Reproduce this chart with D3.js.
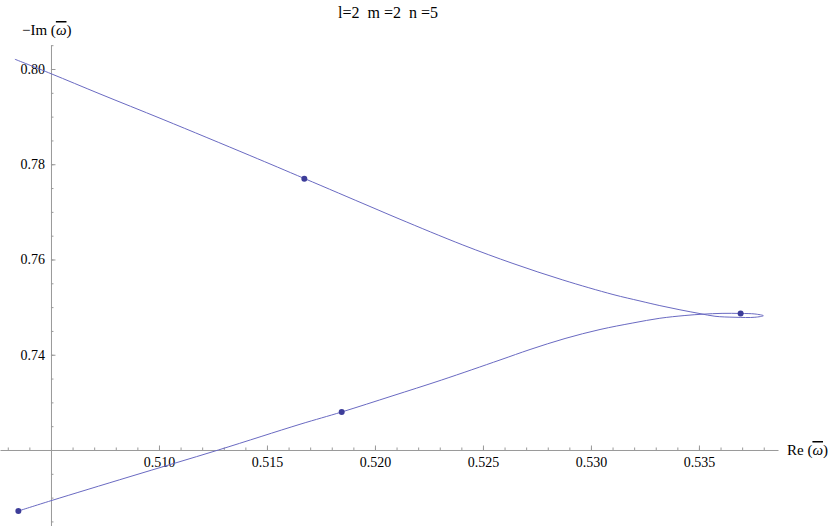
<!DOCTYPE html>
<html>
<head>
<meta charset="utf-8">
<script src="https://cdn.jsdelivr.net/npm/d3@7"></script>
<style>
  body { margin: 0; background: #fff; }
  svg { display: block; }
</style>
</head>
<body>
<svg id="plot"></svg>
<script>
// trajectory, from the lower-left dot round the loop and back to the upper-left end
var reValues = [0.50349, 0.50500, 0.50866, 0.51275, 0.51653, 0.51846, 0.52079, 0.52309,
  0.52579, 0.52718, 0.52880, 0.53042, 0.53194, 0.53319, 0.53435, 0.53519, 0.53607,
  0.53693, 0.53759, 0.53798, 0.53759, 0.53667, 0.53574, 0.53505, 0.53412, 0.53319,
  0.53227, 0.53102, 0.52870, 0.52639, 0.52407, 0.52116, 0.51977, 0.51673, 0.51421,
  0.51019, 0.50727, 0.50500, 0.50333];
var imValues = [0.70719, 0.70935, 0.71441, 0.72000, 0.72540, 0.72798, 0.73134, 0.73470,
  0.73890, 0.74110, 0.74341, 0.74530, 0.74667, 0.74766, 0.74824, 0.74852, 0.74869,
  0.74867, 0.74856, 0.74820, 0.74787, 0.74787, 0.74808, 0.74864, 0.74944, 0.75032,
  0.75129, 0.75265, 0.75570, 0.75916, 0.76305, 0.76845, 0.77113, 0.77701, 0.78184,
  0.78940, 0.79476, 0.79902, 0.80205];

// marked points
var dotRe = [0.50349, 0.51846, 0.53693, 0.51673];
var dotIm = [0.70719, 0.72798, 0.74867, 0.77695];

var xTickLabels = [0.510, 0.515, 0.520, 0.525, 0.530, 0.535];
var yTickLabels = [0.74, 0.76, 0.78, 0.80];

var title = "l=2  m =2  n =5";

var width = 830, height = 526;
var serif = "'Liberation Serif', 'Times New Roman', Tinos, 'Noto Serif', 'DejaVu Serif', serif";

var svg = d3.select("#plot")
  .attr("width", width)
  .attr("height", height);

// plot range as drawn (axes run to the image edges)
var x = d3.scaleLinear()
  .domain([0.50264, 0.53866])
  .range([0, 778]);

var y = d3.scaleLinear()
  .domain([0.70404, 0.80504])
  .range([526, 45]);

var axisColor = "#999";

var xMinor = d3.range(0.503, 0.5385, 0.001);
var yMinor = d3.range(0.705, 0.8051, 0.005);

// x axis, ticks pointing up into the plot
var gx = svg.append("g")
  .attr("transform", "translate(0," + y(0.72) + ")");

gx.append("g")
  .call(d3.axisBottom(x).tickValues(xMinor).tickSizeInner(-2.5).tickSizeOuter(0).tickFormat(""))
  .call(g => g.select(".domain").attr("stroke", axisColor));

gx.append("g")
  .attr("font-family", serif)
  .attr("font-size", 14)
  .call(d3.axisBottom(x).tickValues(xTickLabels).tickSizeInner(-4.5).tickSizeOuter(0)
    .tickPadding(7).tickFormat(d3.format(".3f")))
  .call(g => g.select(".domain").remove())
  .attr("font-family", serif)
  .attr("font-size", 14);

gx.selectAll("line").attr("stroke", axisColor);

// y axis, ticks pointing right
var gy = svg.append("g")
  .attr("transform", "translate(" + x(0.505) + ",0)");

gy.append("g")
  .call(d3.axisLeft(y).tickValues(yMinor).tickSizeInner(-2.5).tickSizeOuter(0).tickFormat(""))
  .call(g => g.select(".domain").attr("stroke", axisColor));

gy.append("g")
  .call(d3.axisLeft(y).tickValues(yTickLabels).tickSizeInner(-4.5).tickSizeOuter(0)
    .tickPadding(6).tickFormat(d3.format(".2f")))
  .call(g => g.select(".domain").remove())
  .attr("font-family", serif)
  .attr("font-size", 14);

gy.selectAll("line").attr("stroke", axisColor);

// curve
var line = d3.line()
  .x((d, i) => x(reValues[i]))
  .y((d, i) => y(imValues[i]))
  .curve(d3.curveCatmullRom.alpha(0.5));

svg.append("path")
  .datum(reValues)
  .attr("fill", "none")
  .attr("stroke", "#6a6ac2")
  .attr("stroke-width", 1)
  .attr("d", line);

svg.append("g")
  .selectAll("circle")
  .data(dotRe)
  .enter().append("circle")
  .attr("cx", d => x(d))
  .attr("cy", (d, i) => y(dotIm[i]))
  .attr("r", 3)
  .attr("fill", "#3d3d99");

// labels
svg.append("text")
  .attr("x", 388)
  .attr("y", 18)
  .attr("text-anchor", "middle")
  .attr("font-family", serif)
  .attr("font-size", 16)
  .style("white-space", "pre")
  .text(title);

var ylab = svg.append("text")
  .attr("x", 22)
  .attr("y", 35)
  .attr("font-family", serif)
  .attr("font-size", 15);
ylab.append("tspan").text("\u2212Im (");
ylab.append("tspan").attr("font-style", "italic").style("text-decoration", "overline").text("\u03c9");
ylab.append("tspan").text(")");

var xlab = svg.append("text")
  .attr("x", 787)
  .attr("y", 455)
  .attr("font-family", serif)
  .attr("font-size", 15);
xlab.append("tspan").text("Re (");
xlab.append("tspan").attr("font-style", "italic").style("text-decoration", "overline").text("\u03c9");
xlab.append("tspan").text(")");
</script>
</body>
</html>
